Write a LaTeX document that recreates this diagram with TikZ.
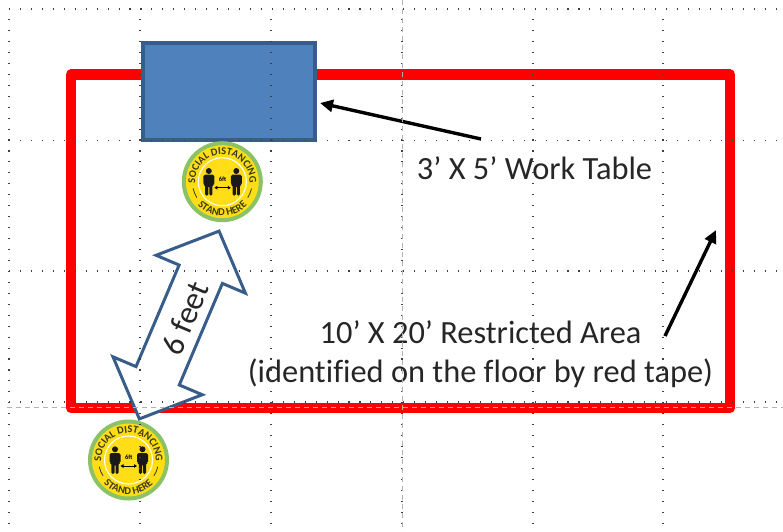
\documentclass[tikz,border=0pt]{standalone}
\usepackage{fontspec}
\setmainfont[Ligatures=NoCommon]{Carlito}
\newfontfamily\signfont{Carlito}
\usetikzlibrary{arrows.meta,shapes.arrows,decorations.text}
\definecolor{tableblue}{HTML}{4F81BD}
\definecolor{tableedge}{HTML}{385D8A}
\definecolor{signgreen}{HTML}{8CC266}
\definecolor{signyellow}{HTML}{FFDE17}
\definecolor{signdark}{HTML}{3A3A14}

\begin{document}
\begin{tikzpicture}[x=1pt,y=-1pt,%
% common options for the taped floor area and the table:
tape/.style = {draw=red, line width=10.5pt, line join=round, inner sep=0},
worktable/.style = {draw=tableedge, fill=tableblue, line width=4pt, inner sep=0},
% common options for the labels and pointers:
areatext/.style = {font=\fontsize{32.4}{39}\selectfont, text=black!85, align=center, inner sep=0},
pointer/.style = {-{Triangle[length=13pt,width=12pt]}, line width=3.4pt, black},
gaparrow/.style = {double arrow, draw=tableedge, fill=white, line width=3pt, inner sep=0,
            text height=22pt, text depth=22pt, text width=0pt,
            double arrow tip angle=92, double arrow head extend=25pt},
% the slide guides:
griddot/.style = {black!75, line width=1.1pt, dash pattern=on 1.1pt off 9.85pt},
griddash/.style = {black!30, line width=0.9pt, dash pattern=on 5pt off 4pt},
% the floor sign:
person/.pic = {
  \fill[black!90] (0,10.7) circle (3);
  \fill[black!90, rounded corners=1.5pt] (-5.5,7) -- (5.5,7) -- (5.5,-3) -- (3.6,-3) -- (3.6,-14)
     -- (0.5,-14) -- (0.5,-4) -- (-0.5,-4) -- (-0.5,-14) -- (-3.6,-14) -- (-3.6,-3) -- (-5.5,-3) -- cycle;
},
floorsign/.pic = {
  \begin{scope}[y=1pt]
  \fill[signyellow] (0,0) circle (38);
  \draw[signgreen, line width=4pt] (0,0) circle (38.5);
  \draw[white, line width=1.1pt] (0,0) circle (24);
  \path[decorate, decoration={text along path, text align=center,
     text={|\signfont\bfseries\fontsize{10.5}{10.5}\selectfont\color{signdark}|SOCIAL DISTANCING}}]
     (205:27.2) arc (205:-25:27.2);
  \path[decorate, decoration={text along path, text align=center,
     text={|\signfont\bfseries\fontsize{10.5}{10.5}\selectfont\color{signdark}|STAND HERE}}]
     (215:34.2) arc (215:325:34.2);
  \draw[signdark, line width=0.8pt] (193:30) arc (193:212:30);
  \draw[signdark, line width=0.8pt] (-13:30) arc (-13:-32:30);
  \path (-13.5,0) pic {person};
  \path (14,0) pic {person};
  \draw[{Triangle[length=3pt,width=3.5pt]}-{Triangle[length=3pt,width=3.5pt]}, black, line width=0.9pt] (-8,-6) -- (8.5,-6);
  \node[font=\signfont\bfseries\fontsize{6.5}{6.5}\selectfont, text=black, inner sep=0] at (0.3,2.3) {6ft};
  \end{scope}
}]
\useasboundingbox (0,0) rectangle (783,531);
\node[tape, minimum width=659pt, minimum height=333.5pt] (Area) at (400.5,241.25) {};
\node[worktable, minimum width=172pt, minimum height=97.6pt] (Table) at (229.3,91.5) {};
\path (222.3,181.7) pic {floorsign};
\path (128.5,460) pic {floorsign};
\node[gaparrow, rotate=67, minimum height=204pt, minimum width=94pt] (Gap) at (179.2,325) {};
\node[areatext, rotate=67] (GapText) at (185,318) {6 feet};
\node[areatext] (TableText) at (534.5,168) {3’ X 5’ Work Table};
\node[areatext] (AreaText) at (480.5,354.5) {10’ X 20’ Restricted Area\\(identified on the floor by red tape)};
\coordinate (TableFrom) at (481,139);
\coordinate (TableTo) at (320,103);
\coordinate (AreaFrom) at (665,336);
\coordinate (AreaTo) at (716,230);
\draw[pointer] (TableFrom) -- (TableTo);
\draw[pointer] (AreaFrom) -- (AreaTo);
\foreach \x in {9,140,271,402,533,663}
  \draw[griddot] (\x,19) -- (\x,525);
\foreach \y in {9,140.5,271,402}
  \draw[griddot] (9,\y) -- (783,\y);
\draw[griddash] (402,0) -- (402,531);
\draw[griddash] (7,407) -- (783,407);
\end{tikzpicture}
\end{document}
